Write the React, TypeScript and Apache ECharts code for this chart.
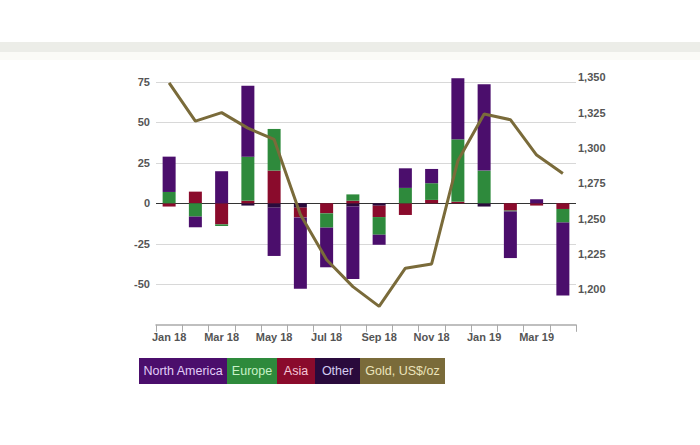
import React, { useEffect, useRef } from "react";
import * as echarts from "echarts";

const months = ["Jan 18","Feb 18","Mar 18","Apr 18","May 18","Jun 18","Jul 18","Aug 18","Sep 18","Oct 18","Nov 18","Dec 18","Jan 19","Feb 19","Mar 19","Apr 19"];
const northAmerica = [21.8, -6.6, 19.8, 43.8, -29.8, -44, -24.5, -44.7, -6.2, 12.1, 8.8, 37.7, 53.3, -28.8, 2.5, -45];
const europe = [7, -8.2, -1, 27.2, 25.7, 0, -8.8, 3.9, -10.9, 9.5, 10.3, 38.5, 20.2, -0.5, 0, -8.4];
const asia = [-2, 7.2, -13, 1.6, 20.2, -6, -6.2, 1.6, -7, -7.2, 2.1, 1, 0, -4.5, -1.4, -3.5];
const other = [0, 0, 0, -1.4, -2.7, -2.7, 0, -2, -1.5, 0, 0, 0, -2, 0, 0, 0];
const gold = [1346, 1319, 1325, 1314, 1306, 1253, 1221, 1202, 1188, 1215, 1218, 1291, 1324, 1320, 1295, 1282];

const leftTicks = [-50, -25, 0, 25, 50, 75];
const rightTicks = [1200, 1225, 1250, 1275, 1300, 1325, 1350];

const seriesNames = ["North America", "Europe", "Asia", "Other", "Gold, US$/oz"];
const colors = ["#4b0e6c", "#2e8a3c", "#8a0b2c", "#2a0a3c", "#7a6b3a"];
const textColors = ["#e2ccf8", "#c8f2c8", "#f6c8d8", "#d4ccf2", "#ece4bc"];

export default function App() {
  const ref = useRef<HTMLDivElement>(null);
  useEffect(() => {
    document.body.style.margin = "0";
    const chart = echarts.init(ref.current!, null, { renderer: "svg" });
    const font = "Liberation Sans, Arial, sans-serif";
    const boxWidths = [88, 50, 38, 45, 85];
    let x = 139;
    const legendEls: any[] = [];
    seriesNames.forEach((n, i) => {
      legendEls.push({
        type: "rect",
        shape: { x, y: 358, width: boxWidths[i], height: 26 },
        style: { fill: colors[i] },
      });
      legendEls.push({
        type: "text",
        x: x + boxWidths[i] / 2,
        y: 371,
        style: {
          text: n,
          fill: textColors[i],
          font: `12.5px ${font}`,
          align: "center",
          verticalAlign: "middle",
        },
      });
      x += boxWidths[i];
    });
    const splitColors = leftTicks.map(() => "#d4d4d4");
    const allColors = ["rgba(0,0,0,0)", ...leftTicks.map((v) => (v === 0 ? "#333333" : "#d8d8d8")), "rgba(0,0,0,0)"];
    void splitColors;
    const stackOrder = [3, 2, 1, 0];
    const values = [northAmerica, europe, asia, other];
    chart.setOption({
      animation: false,
      backgroundColor: "#ffffff",
      textStyle: { fontFamily: font },
      grid: { left: 156, right: 124, top: 73.7, bottom: 120.2, containLabel: false },
      xAxis: {
        type: "category",
        data: months,
        boundaryGap: true,
        axisLine: { show: true, onZero: false, lineStyle: { color: "#aaaaaa", width: 1.5 } },
        axisTick: { show: true, interval: 0, length: 7, lineStyle: { color: "#aaaaaa" } },
        axisLabel: { interval: 1, color: "#555555", fontSize: 11, fontWeight: "bold", margin: 7, fontFamily: font },
        splitLine: { show: false },
      },
      yAxis: [
        {
          type: "value",
          min: -75,
          max: 80,
          interval: 25,
          axisLine: { show: false },
          axisTick: { show: false },
          axisLabel: {
            color: "#555555",
            fontSize: 11,
            fontWeight: "bold",
            margin: 6,
            fontFamily: font,
            formatter: (v: number) => (leftTicks.includes(v) ? String(v) : ""),
          },
          splitLine: { show: true, lineStyle: { color: allColors, width: 1 } },
        },
        {
          type: "value",
          min: 1175,
          max: 1352.5,
          interval: 25,
          position: "right",
          axisLine: { show: false },
          axisTick: { show: false },
          axisLabel: {
            color: "#555555",
            fontSize: 11,
            fontWeight: "bold",
            margin: 2,
            fontFamily: font,
            formatter: (v: number) => (rightTicks.includes(v) ? v.toLocaleString("en-US") : ""),
          },
          splitLine: { show: false },
        },
      ],
      series: [
        ...stackOrder.map((i) => ({
          name: seriesNames[i],
          type: "bar",
          stack: "regions",
          barWidth: 13,
          data: values[i],
          itemStyle: { color: colors[i] },
          yAxisIndex: 0,
          z: 2,
        })),
        {
          name: seriesNames[4],
          type: "line",
          yAxisIndex: 1,
          data: gold,
          symbol: "none",
          lineStyle: { color: colors[4], width: 3 },
          z: 5,
        },
      ],
      graphic: [
        { type: "rect", shape: { x: 0, y: 42, width: 700, height: 10 }, style: { fill: "#ecede8" }, z: 0 },
        { type: "rect", shape: { x: 0, y: 52, width: 700, height: 8 }, style: { fill: "#fbfbf7" }, z: 0 },
        ...legendEls,
      ],
    });
    return () => chart.dispose();
  }, []);
  return <div ref={ref} style={{ width: 700, height: 445 }} />;
}
